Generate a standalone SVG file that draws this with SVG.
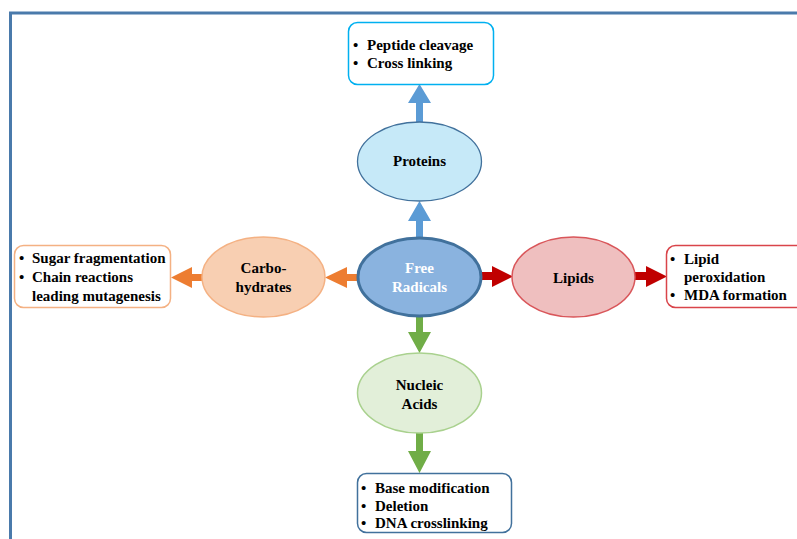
<svg xmlns="http://www.w3.org/2000/svg" width="797" height="539" viewBox="0 0 797 539">
<style>
text { font-family: 'Liberation Serif', 'DejaVu Serif', serif; font-weight: 700; font-size: 15px; fill: #000; }
.c { text-anchor: middle; font-size: 15px; }
.w { fill: #fff; }
.box { fill: #fff; stroke-width: 1.5; }
</style>
<rect width="797" height="539" fill="#fff"/>
<g id="frame">
<path d="M10.5 539 V13 H797" fill="none" stroke="#4a7aab" stroke-width="3"/>
</g>
<g id="connectors">
<polygon points="416,238 423,238 423,221 431,221 419.5,201 408,221 416,221" fill="#5b9bd5"/>
<polygon points="416,122 423,122 423,103 431,103 419.5,84 408,103 416,103" fill="#5b9bd5"/>
<polygon points="358,274 347,274 347,267 325,277.5 347,288 347,281 358,281" fill="#ed7d31"/>
<polygon points="203,274 192,274 192,267 171,277.5 192,288 192,281 203,281" fill="#ed7d31"/>
<polygon points="481,272 492,272 492,266 513,276.5 492,287 492,280 481,280" fill="#c00000"/>
<polygon points="635,272 646,272 646,266 667,276.5 646,287 646,280 635,280" fill="#c00000"/>
<polygon points="416,316 423,316 423,332 431,332 419.5,353 408,332 416,332" fill="#70ad47"/>
<polygon points="416,433 423,433 423,451 431,451 419.5,473 408,451 416,451" fill="#70ad47"/>
</g>
<g id="proteins-box">
<rect class="box" x="348.5" y="22.5" width="145" height="62" rx="9" stroke="#00b0f0"/>
<text x="353" y="50">•</text><text x="367" y="50">Peptide cleavage</text>
<text x="353" y="68">•</text><text x="367" y="68">Cross linking</text>
</g>
<g id="proteins">
<ellipse cx="419.5" cy="161.5" rx="62" ry="39.5" fill="#c6e9f8" stroke="#41719c" stroke-width="1.3"/>
<text class="c" x="419.5" y="166">Proteins</text>
</g>
<g id="free-radicals">
<ellipse cx="419.5" cy="277" rx="61.5" ry="39" fill="#8ab3df" stroke="#41719c" stroke-width="3"/>
<text class="c w" x="419.5" y="273">Free</text>
<text class="c w" x="419.5" y="292">Radicals</text>
</g>
<g id="carbohydrates">
<ellipse cx="263.5" cy="277" rx="61.5" ry="40" fill="#f8cfb2" stroke="#f4b183" stroke-width="1.5"/>
<text class="c" x="263.5" y="273">Carbo-</text>
<text class="c" x="263.5" y="292">hydrates</text>
</g>
<g id="carbohydrates-box">
<rect class="box" x="14.5" y="245.5" width="156" height="62" rx="9" stroke="#f4b183"/>
<text x="19" y="263">•</text><text x="32" y="263">Sugar fragmentation</text>
<text x="19" y="282">•</text><text x="32" y="282">Chain reactions</text>
<text x="32" y="301">leading mutagenesis</text>
</g>
<g id="lipids">
<ellipse cx="573.5" cy="277" rx="61.5" ry="40" fill="#efbfbf" stroke="#d9565a" stroke-width="1.5"/>
<text class="c" x="573.5" y="283">Lipids</text>
</g>
<g id="lipids-box">
<rect class="box" x="666.5" y="245.5" width="145" height="62" rx="9" stroke="#d9444a"/>
<text x="670" y="264">•</text><text x="684" y="264">Lipid</text>
<text x="684" y="282">peroxidation</text>
<text x="670" y="300">•</text><text x="684" y="300">MDA formation</text>
</g>
<g id="nucleic-acids">
<ellipse cx="419.5" cy="393" rx="62" ry="40" fill="#e2efd9" stroke="#a9d18e" stroke-width="1.5"/>
<text class="c" x="419.5" y="390">Nucleic</text>
<text class="c" x="419.5" y="409">Acids</text>
</g>
<g id="nucleic-box">
<rect class="box" x="357.5" y="473.5" width="154" height="59" rx="9" stroke="#41719c"/>
<text x="361" y="493">•</text><text x="375" y="493">Base modification</text>
<text x="361" y="510.5">•</text><text x="375" y="510.5">Deletion</text>
<text x="361" y="528">•</text><text x="375" y="528">DNA crosslinking</text>
</g>
</svg>
